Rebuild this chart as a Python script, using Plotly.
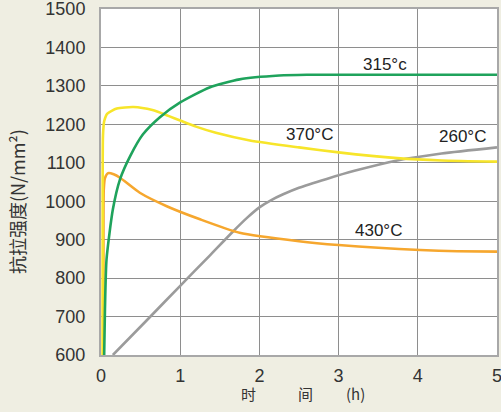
import plotly.graph_objects as go

# Tensile strength vs. time at four temperatures
x_315 = [0.04, 0.05, 0.07, 0.15, 0.24, 0.37, 0.53, 0.74, 1.0, 1.37, 1.75, 2.25, 2.6, 3.0, 4.0, 5.0]
y_315 = [600, 720, 849, 979, 1057, 1118, 1174, 1218, 1257, 1296, 1317, 1327, 1329, 1329, 1329, 1329]

x_370 = [0.02, 0.021, 0.025, 0.04, 0.08, 0.2, 0.41, 0.65, 0.85, 1.0, 1.2, 1.45, 1.88, 2.5, 3.0, 3.74, 4.3, 5.0]
y_370 = [600, 1000, 1170, 1208, 1228, 1241, 1245, 1237, 1222, 1210, 1194, 1178, 1158, 1140, 1127, 1112, 1106, 1103]

x_430 = [0.03, 0.031, 0.035, 0.05, 0.09, 0.16, 0.24, 0.49, 0.83, 1.25, 1.75, 2.5, 3.0, 3.5, 4.03, 4.5, 5.0]
y_430 = [600, 900, 1030, 1060, 1073, 1070, 1061, 1022, 987, 953, 918, 896, 886, 879, 873, 870, 869]

x_260 = [0.15, 0.6, 1.0, 1.37, 1.67, 1.85, 2.0, 2.15, 2.3, 2.5, 2.85, 3.2, 3.74, 4.3, 5.0]
y_260 = [600, 695, 780, 858, 922, 958, 984, 1003, 1018, 1035, 1058, 1079, 1106, 1124, 1140]

x_ticks = [0, 1, 2, 3, 4, 5]
y_ticks = [600, 700, 800, 900, 1000, 1100, 1200, 1300, 1400, 1500]

series = [
    ("260°C", x_260, y_260, "#9b9b9b"),
    ("430°C", x_430, y_430, "#f6a72e"),
    ("370°C", x_370, y_370, "#f7e52a"),
    ("315°c", x_315, y_315, "#1fa35c"),
]

fig = go.Figure()
for name, xs, ys, color in series:
    fig.add_trace(go.Scatter(
        x=xs, y=ys, mode="lines", name=name,
        line=dict(color=color, width=2.6, shape="spline", smoothing=0.6),
        showlegend=False, hoverinfo="skip",
    ))

# Curve labels
labels = [
    ("315°c", 3.58, 1355),
    ("370°C", 2.63, 1173),
    ("260°C", 4.57, 1168),
    ("430°C", 3.5, 925),
]
for text, lx, ly in labels:
    fig.add_annotation(x=lx, y=ly, text=text, showarrow=False,
                       font=dict(family="Liberation Sans", size=17, color="#222"))

# X axis title pieces
for text, lx in [("时", 1.86), ("间", 2.58), ("(h)", 3.21)]:
    fig.add_annotation(x=lx, y=-0.11, xref="x", yref="paper", text=text,
                       showarrow=False, yanchor="middle",
                       font=dict(family="Noto Sans CJK SC", size=15, color="#333"))

# Y axis title
fig.add_annotation(x=-0.212, y=0.442, xref="paper", yref="paper",
                   xanchor="center", yanchor="middle",
                   text="抗拉强度(N/mm²)", textangle=-90, showarrow=False,
                   font=dict(family="Noto Sans CJK SC", size=18, color="#333"))

axis_common = dict(
    showgrid=True, gridcolor="#8e8e8e", gridwidth=1,
    showline=True, linecolor="#a8a8a8", linewidth=2, mirror=True,
    zeroline=False,
    tickfont=dict(family="Liberation Sans", size=18, color="#333"),
    ticks="outside", tickcolor="rgba(0,0,0,0)",
    ticklabeloverflow="allow",
)

fig.update_xaxes(range=[0, 5], tickvals=x_ticks, ticklen=3, **axis_common)
fig.update_yaxes(range=[600, 1500], tickvals=y_ticks, ticklen=10, **axis_common)

fig.update_layout(
    width=501, height=412,
    margin=dict(l=101, r=4, t=9, b=57, autoexpand=False),
    paper_bgcolor="#efeee2",
    plot_bgcolor="#ffffff",
)

fig.write_html("out.html")
